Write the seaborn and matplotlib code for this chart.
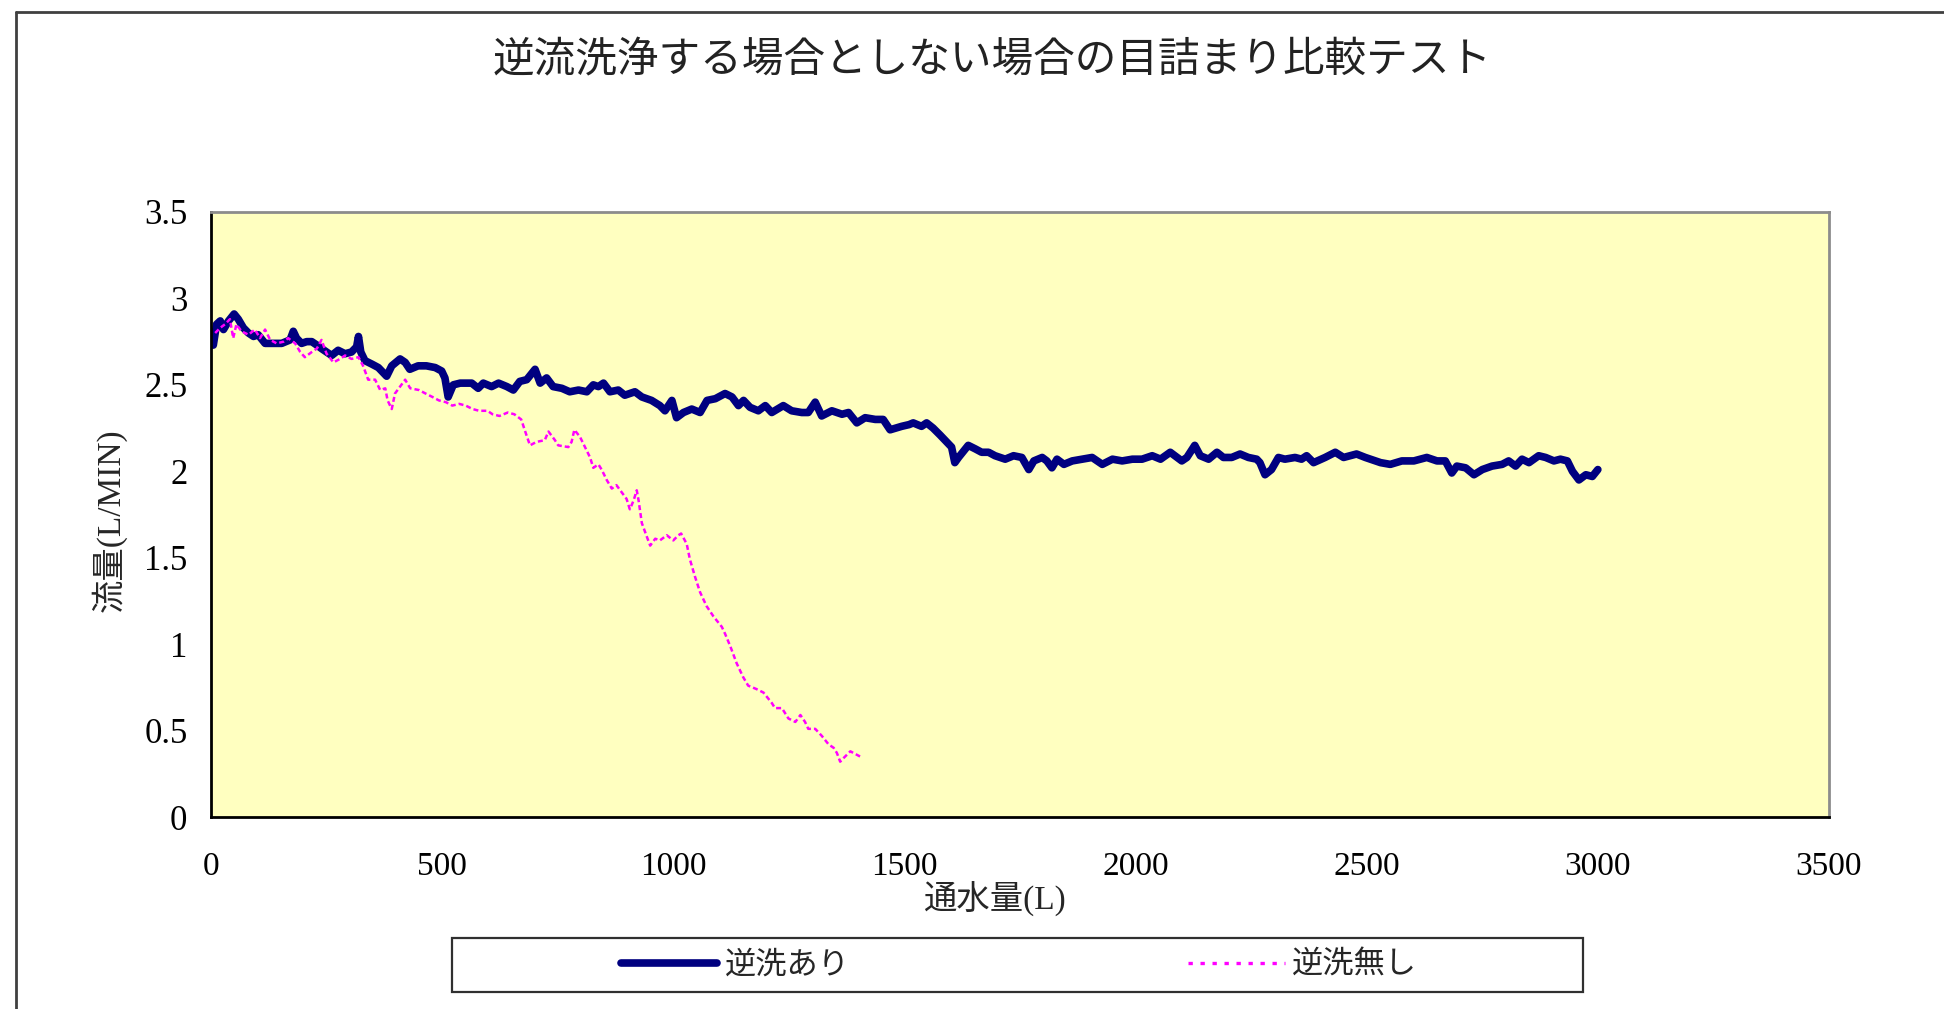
import matplotlib
matplotlib.use("Agg")
import matplotlib.pyplot as plt
import seaborn as sns
import pandas as pd
from matplotlib.patches import Rectangle
from matplotlib.lines import Line2D

# ---- data ----
with_bw_x = [5, 12, 20, 27, 38, 50, 59, 70, 81, 92, 102, 117, 131, 153, 171, 178, 185, 196,
             207, 218, 229, 239, 250, 261, 275, 290, 304, 315, 319, 324, 333, 348, 362, 380,
             391, 409, 420, 430, 448, 466, 485, 499, 506, 513, 524, 539, 564, 578, 589, 607,
             622, 640, 654, 668, 683, 701, 712, 726, 740,
             759, 776, 795, 813, 827, 838, 849, 863, 881, 895, 917, 932, 953, 971, 982, 997,
             1007, 1022, 1040, 1058, 1073, 1091, 1112, 1127, 1141, 1152, 1166, 1184, 1199,
             1213, 1238, 1256, 1278, 1292, 1307, 1321, 1343, 1365, 1379, 1397, 1415, 1437,
             1454, 1469, 1494, 1510,
             1519, 1537, 1548, 1562, 1577, 1595, 1602, 1609, 1617, 1638, 1653, 1667, 1682,
             1696, 1718, 1736, 1754, 1769, 1780, 1798, 1808, 1819, 1830, 1845, 1863, 1885,
             1906, 1928, 1950, 1971, 1993, 2014, 2036, 2054, 2075, 2100, 2111, 2128, 2140,
             2158, 2176, 2190, 2208, 2226, 2244, 2262, 2269, 2280, 2294, 2309, 2323, 2345,
             2359, 2370, 2385, 2410, 2432, 2450, 2478, 2497, 2530, 2551, 2576, 2602, 2630,
             2652, 2670, 2684, 2695, 2714, 2732, 2750, 2771, 2793, 2807, 2822, 2836, 2851,
             2872, 2887, 2905, 2919, 2934, 2945, 2959, 2974, 2988, 3000]
with_bw_y = [2.73, 2.85, 2.87, 2.82, 2.87, 2.91, 2.88, 2.83, 2.80, 2.78, 2.79, 2.74, 2.74, 2.74,
             2.76, 2.81, 2.77, 2.74, 2.75, 2.75, 2.73, 2.71, 2.69, 2.67, 2.70, 2.68, 2.69, 2.72,
             2.78, 2.69, 2.64, 2.62, 2.60, 2.55, 2.61, 2.65, 2.63, 2.59, 2.61, 2.61, 2.60, 2.58,
             2.54, 2.43, 2.50, 2.51, 2.51, 2.48, 2.51, 2.49, 2.51, 2.49, 2.47, 2.52, 2.53, 2.59,
             2.51, 2.54, 2.49,
             2.48, 2.46, 2.47, 2.46, 2.50, 2.49, 2.51, 2.46, 2.47, 2.44, 2.46, 2.43, 2.41, 2.38,
             2.35, 2.41, 2.31, 2.34, 2.36, 2.34, 2.41, 2.42, 2.45, 2.43, 2.38, 2.41, 2.37, 2.35,
             2.38, 2.34, 2.38, 2.35, 2.34, 2.34, 2.40, 2.32, 2.35, 2.33, 2.34, 2.28, 2.31, 2.30,
             2.30, 2.24, 2.26, 2.27,
             2.28, 2.26, 2.28, 2.25, 2.21, 2.16, 2.14, 2.05, 2.08, 2.15, 2.13, 2.11, 2.11, 2.09,
             2.07, 2.09, 2.08, 2.01, 2.06, 2.08, 2.06, 2.02, 2.07, 2.04, 2.06, 2.07, 2.08, 2.04,
             2.07, 2.06, 2.07, 2.07, 2.09, 2.07, 2.11, 2.06, 2.08, 2.15, 2.09, 2.07, 2.11, 2.08,
             2.08, 2.10, 2.08, 2.07, 2.05, 1.98, 2.01, 2.08, 2.07, 2.08, 2.07, 2.09, 2.05, 2.08,
             2.11, 2.08, 2.10, 2.08, 2.05, 2.04, 2.06, 2.06, 2.08, 2.06, 2.06, 1.99, 2.03, 2.02,
             1.98, 2.01, 2.03, 2.04, 2.06, 2.03, 2.07, 2.05, 2.09, 2.08, 2.06, 2.07, 2.06, 2.00,
             1.95, 1.98, 1.97, 2.01]

no_bw_x = [9, 20, 30, 41, 48, 55, 66, 81, 95, 106, 117, 128, 142, 157, 167, 182, 193, 203,
           218, 229, 239, 250, 265, 279, 290, 304, 319, 329, 340, 355, 366, 377, 382, 391,
           398, 409, 420, 431, 450, 464, 479, 493, 508, 522, 537, 551, 566, 580, 598, 609,
           624, 642, 656, 671, 681, 690, 704,
           722, 730, 744, 751, 773, 780, 786, 798, 809, 820, 827, 838, 845, 856, 867, 877,
           888, 899, 906, 914, 921, 925, 932, 943, 950, 961, 971, 986, 1000, 1011, 1017,
           1029, 1036, 1047, 1058, 1072, 1087, 1105, 1112, 1123, 1137, 1151, 1162, 1180,
           1195, 1213, 1220, 1235, 1249, 1264, 1275, 1285, 1292, 1307, 1321, 1336, 1347,
           1354, 1361, 1368, 1383, 1404]
no_bw_y = [2.80, 2.83, 2.85, 2.88, 2.77, 2.85, 2.81, 2.79, 2.82, 2.77, 2.82, 2.76, 2.74, 2.75,
           2.77, 2.74, 2.69, 2.66, 2.69, 2.71, 2.76, 2.68, 2.63, 2.65, 2.67, 2.65, 2.66, 2.61,
           2.53, 2.53, 2.47, 2.48, 2.41, 2.36, 2.45, 2.49, 2.53, 2.48, 2.47, 2.45, 2.43, 2.41,
           2.40, 2.38, 2.39, 2.38, 2.36, 2.35, 2.35, 2.33, 2.32, 2.34, 2.33, 2.30, 2.22, 2.15,
           2.17,
           2.18, 2.23, 2.18, 2.15, 2.14, 2.17, 2.24, 2.20, 2.14, 2.08, 2.02, 2.04, 2.01, 1.95,
           1.90, 1.92, 1.88, 1.84, 1.78, 1.83, 1.89, 1.83, 1.70, 1.62, 1.57, 1.61, 1.60, 1.63,
           1.60, 1.63, 1.64, 1.58, 1.49, 1.39, 1.30, 1.22, 1.16, 1.10, 1.06, 0.99, 0.89, 0.81,
           0.76, 0.74, 0.72, 0.66, 0.63, 0.63, 0.57, 0.55, 0.59, 0.55, 0.51, 0.51, 0.47, 0.42,
           0.40, 0.37, 0.32, 0.34, 0.38, 0.35]

label_with = "逆洗あり"
label_without = "逆洗無し"
title_text = "逆流洗浄する場合としない場合の目詰まり比較テスト"
xlabel_text = "通水量(L)"
ylabel_text = "流量(L/MIN)"
xticks = [0, 500, 1000, 1500, 2000, 2500, 3000, 3500]
yticks = [0, 0.5, 1, 1.5, 2, 2.5, 3, 3.5]
ytick_labels = ["0", "0.5", "1", "1.5", "2", "2.5", "3", "3.5"]

df_with = pd.DataFrame({"x": with_bw_x, "y": with_bw_y})
df_without = pd.DataFrame({"x": no_bw_x, "y": no_bw_y})

# ---- style ----
sns.set_style("white")
plt.rcParams["font.family"] = ["Noto Sans CJK JP", "DejaVu Sans"]
SERIF = ["Liberation Serif", "Noto Sans CJK JP"]
JP = ["Noto Sans CJK JP", "DejaVu Sans"]

fig = plt.figure(figsize=(19.44, 10.09), dpi=100)
ax = fig.add_axes([211 / 1944, 1 - 817 / 1009, (1829 - 211) / 1944, (817 - 212) / 1009])
ax.set_facecolor("#FFFFC0")

sns.lineplot(data=df_with, x="x", y="y", ax=ax, color="#000080", linewidth=5.5,
             estimator=None, label=label_with, legend=False)
sns.lineplot(data=df_without, x="x", y="y", ax=ax, color="#FF00FF", linewidth=1.8,
             estimator=None, label=label_without, legend=False)
ax.lines[1].set_dashes([2.0, 1.2])

ax.set_xlim(0, 3500)
ax.set_ylim(0, 3.5)
ax.set_xticks(xticks)
ax.set_xticklabels([str(t) for t in xticks], family=SERIF, fontsize=24)
ax.set_yticks(yticks)
ax.set_yticklabels(ytick_labels, family=SERIF, fontsize=25)
ax.tick_params(axis="x", direction="in", length=8, width=1.2, pad=25, colors="black")
ax.tick_params(axis="y", direction="in", length=8, width=1.2, pad=17, colors="black")
ax.set_xlabel("")
ax.set_ylabel("")

for side in ["left", "bottom"]:
    ax.spines[side].set_color("black")
    ax.spines[side].set_linewidth(2)
for side in ["top", "right"]:
    ax.spines[side].set_color("#8c8c8c")
    ax.spines[side].set_linewidth(2)

# axis labels (figure positioned)
fig.text(994 / 1944, 1 - 899 / 1009, xlabel_text, ha="center", va="center",
         family=SERIF, fontsize=24)
fig.text(109 / 1944, 1 - 520 / 1009, ylabel_text, ha="center", va="center",
         rotation=90, family=SERIF, fontsize=24)

# title
fig.text(992 / 1944, 1 - 61 / 1009, title_text, ha="center", va="center",
         family=JP, fontsize=30, style="italic", color="#222222")

# outer chart frame (extends beyond the picture on right and bottom)
fig.add_artist(Line2D([16 / 1944, 16 / 1944], [0, 1 - 12 / 1009], transform=fig.transFigure,
                      color="#404040", linewidth=2))
fig.add_artist(Line2D([16 / 1944, 1], [1 - 12 / 1009, 1 - 12 / 1009], transform=fig.transFigure,
                      color="#404040", linewidth=2))

# legend frame
fig.add_artist(Rectangle((452 / 1944, 1 - 992 / 1009), (1583 - 452) / 1944, 54 / 1009,
                         transform=fig.transFigure, fill=False, edgecolor="#303030",
                         linewidth=1.6))
handles = [Line2D([], [], color="#000080", linewidth=5.5),
           Line2D([], [], color="#FF00FF", linewidth=2.4, dashes=[1.3, 2.3])]
leg = fig.legend(handles, [label_with, label_without], loc="center",
                 bbox_to_anchor=(1019 / 1944, 1 - 965 / 1009), ncol=2, frameon=False,
                 prop={"family": JP, "size": 22.5}, handlelength=3.1, handletextpad=0.25,
                 columnspacing=10.8, borderpad=0)

fig.savefig("out.png", dpi=100, facecolor="white")
